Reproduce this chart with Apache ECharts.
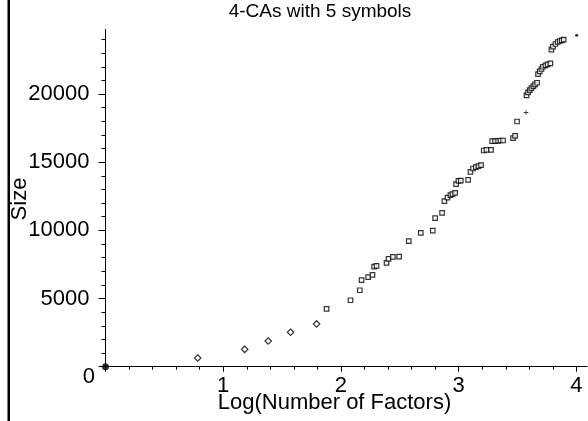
<!DOCTYPE html>
<html>
<head>
<meta charset="utf-8">
<script src="https://cdn.jsdelivr.net/npm/echarts@6/dist/echarts.min.js"></script>
<style>
html,body{margin:0;padding:0;background:#fff;}
#c{width:588px;height:421px;}
</style>
</head>
<body>
<div id="c"></div>
<script>
const titleText = '4-CAs with 5 symbols';
const xName = 'Log(Number of Factors)';
const yName = 'Size';

const xMajorTicks = [0, 1, 2, 3, 4];
const xTickLabels = [1, 2, 3, 4];
const xMinorTicks = [0.2,0.4,0.6,0.8,1.2,1.4,1.6,1.8,2.2,2.4,2.6,2.8,3.2,3.4,3.6,3.8,4.2];
const yMajorTicks = [0, 5000, 10000, 15000, 20000];
const yTickLabels = [5000, 10000, 15000, 20000];
const yMinorTicks = [1000,2000,3000,4000,6000,7000,8000,9000,11000,12000,13000,14000,16000,17000,18000,19000,21000,22000,23000,24000];

const originX = [0];
const originY = [0];
const diamondX = [0.783, 1.182, 1.382, 1.572, 1.793];
const diamondY = [639, 1278, 1887, 2526, 3135];
const squareX = [1.878,2.081,2.160,2.175,2.231,2.268,2.282,2.302,2.387,2.404,2.441,2.494,2.576,2.678,2.780,2.800,2.859,2.879,2.905,2.930,2.947,2.970,2.978,2.998,3.018,3.080,3.100,3.122,3.145,3.168,3.190,3.213,3.236,3.275,3.284,3.309,3.335,3.355,3.377,3.462,3.479,3.496,3.576,3.589,3.604,3.618,3.635,3.649,3.666,3.674,3.688,3.703,3.716,3.737,3.756,3.779,3.788,3.801,3.822,3.841,3.858,3.875,3.892];
const squareY = [4236,4875,5609,6350,6564,6733,7342,7393,7614,7907,8054,8076,9207,9816,9985,10896,11285,12144,12408,12584,12658,12753,13392,13634,13656,13708,14295,14538,14640,14714,14787,15859,15910,15910,16549,16549,16571,16594,16594,16770,16938,17988,19897,20117,20294,20441,20587,20705,20830,21468,21659,21836,22004,22100,22173,22247,23253,23473,23671,23818,23891,23935,23987];
const plusX = [3.572];
const plusY = [18649];
const dotX = [4.002];
const dotY = [24317];

const zip = (xs, ys) => xs.map((x, i) => [x, ys[i]]);
const FONT = 'Liberation Sans, Arial, sans-serif';
const black = '#000';

const chart = echarts.init(document.getElementById('c'), null, {renderer: 'canvas'});
const gridDef = {left: 105.5, right: 1, top: 29.3, bottom: 54.3};
const xBase = {type: 'value', min: 0, max: 4.09, position: 'bottom', splitLine: {show: false}};
const yBase = {type: 'value', min: 0, max: 24750, position: 'left', splitLine: {show: false}};

chart.setOption({
  animation: false,
  backgroundColor: '#fff',
  grid: gridDef,
  xAxis: [
    Object.assign({}, xBase, {
      axisLine: {show: true, onZero: false, lineStyle: {color: black, width: 1}},
      axisTick: {show: true, length: 5, lineStyle: {color: black}, customValues: xMajorTicks},
      axisLabel: {show: true, margin: 8, color: black, fontSize: 22, fontFamily: FONT, customValues: xTickLabels,
        formatter: v => String(v)}
    }),
    Object.assign({}, xBase, {
      axisLine: {show: false, onZero: false},
      axisTick: {show: true, length: 3, lineStyle: {color: black}, customValues: xMinorTicks},
      axisLabel: {show: false}
    })
  ],
  yAxis: [
    Object.assign({}, yBase, {
      axisLine: {show: true, onZero: false, lineStyle: {color: black, width: 1}},
      axisTick: {show: true, length: 7, lineStyle: {color: black}, customValues: yMajorTicks},
      axisLabel: {show: true, margin: 16, color: black, fontSize: 22, fontFamily: FONT, customValues: yTickLabels,
        formatter: v => String(v)}
    }),
    Object.assign({}, yBase, {
      axisLine: {show: false, onZero: false},
      axisTick: {show: true, length: 4, lineStyle: {color: black}, customValues: yMinorTicks},
      axisLabel: {show: false}
    })
  ],
  series: [
    {type: 'scatter', xAxisIndex: 0, yAxisIndex: 0, data: zip(diamondX, diamondY), symbol: 'diamond', symbolSize: [6.5, 6.5],
      itemStyle: {color: '#fff', borderColor: black, borderWidth: 1.2}, clip: false},
    {type: 'scatter', xAxisIndex: 0, yAxisIndex: 0, data: zip(squareX, squareY), symbol: 'rect', symbolSize: 4.5,
      itemStyle: {color: '#fff', borderColor: black, borderWidth: 1.2}, clip: false},
    {type: 'scatter', xAxisIndex: 0, yAxisIndex: 0, data: zip(plusX, plusY), symbol: 'path://M2,0H3V2H5V3H3V5H2V3H0V2H2Z', symbolSize: 4.5,
      itemStyle: {color: black}, clip: false},
    {type: 'scatter', xAxisIndex: 0, yAxisIndex: 0, data: zip(dotX, dotY), symbol: 'circle', symbolSize: 3,
      itemStyle: {color: black}, clip: false},
    {type: 'scatter', xAxisIndex: 0, yAxisIndex: 0, data: zip(originX, originY), symbol: 'circle', symbolSize: 7,
      itemStyle: {color: black}, clip: false, z: 5}
  ],
  graphic: [
    {type: 'rect', shape: {x: 7.5, y: 0, width: 2.5, height: 421}, style: {fill: black}, silent: true},
    {type: 'text', x: 320, y: 12, style: {text: titleText, fill: black, font: '19px ' + FONT, align: 'center', verticalAlign: 'middle'}},
    {type: 'text', x: 334.5, y: 403, style: {text: xName, fill: black, font: '22px ' + FONT, align: 'center', verticalAlign: 'middle'}},
    {type: 'text', x: 19.5, y: 199, rotation: Math.PI / 2, style: {text: yName, fill: black, font: '22px ' + FONT, align: 'center', verticalAlign: 'middle'}},
    {type: 'text', x: 95, y: 377, style: {text: '0', fill: black, font: '22px ' + FONT, align: 'right', verticalAlign: 'middle'}}
  ]
});
</script>
</body>
</html>
